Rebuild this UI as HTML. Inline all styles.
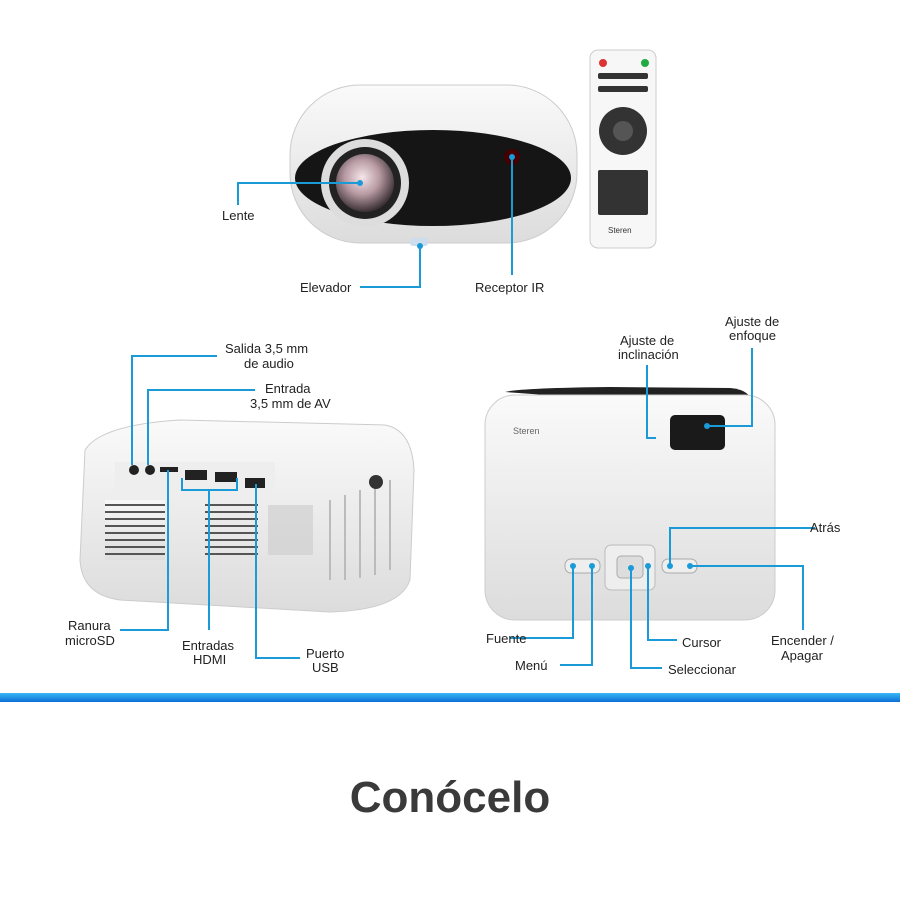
<!DOCTYPE html>
<html><head><meta charset="utf-8"><style>
body{margin:0;width:900px;height:900px;background:#fff;overflow:hidden;font-family:"Liberation Sans",sans-serif}
svg{position:absolute;left:0;top:0}
.t{font-size:13px;fill:#222}
</style></head><body>
<svg width="900" height="900" viewBox="0 0 900 900">
<defs>
<linearGradient id="bar" x1="0" y1="0" x2="0" y2="1"><stop offset="0" stop-color="#3ab8f5"/><stop offset="1" stop-color="#0a6fd6"/></linearGradient>
<radialGradient id="lens" cx="0.45" cy="0.4" r="0.6"><stop offset="0" stop-color="#f4e6ea"/><stop offset="0.5" stop-color="#b89aa3"/><stop offset="1" stop-color="#3a3035"/></radialGradient>
<linearGradient id="body" x1="0" y1="0" x2="0" y2="1"><stop offset="0" stop-color="#fafafa"/><stop offset="1" stop-color="#dcdcdc"/></linearGradient>
</defs>
<!-- top projector -->
<rect x="290" y="85" width="287" height="158" rx="70" fill="url(#body)" stroke="#ccc"/>
<ellipse cx="433" cy="178" rx="138" ry="48" fill="#151515"/>
<circle cx="365" cy="183" r="44" fill="#ddd"/>
<circle cx="365" cy="183" r="36" fill="#222"/>
<circle cx="365" cy="183" r="29" fill="url(#lens)"/>
<circle cx="512" cy="157" r="8" fill="#400"/>
<rect x="410" y="238" width="18" height="8" rx="3" fill="#cde"/>
<!-- remote -->
<rect x="590" y="50" width="66" height="198" rx="8" fill="#f7f7f7" stroke="#ccc"/>
<circle cx="603" cy="63" r="4" fill="#d33"/><circle cx="645" cy="63" r="4" fill="#2a4"/>
<g fill="#333"><rect x="598" y="73" width="50" height="6" rx="2"/><rect x="598" y="86" width="50" height="6" rx="2"/>
<circle cx="623" cy="131" r="24"/><rect x="598" y="170" width="50" height="45" rx="2"/></g>
<circle cx="623" cy="131" r="10" fill="#555"/>
<text x="608" y="233" font-size="8" fill="#333">Steren</text>
<!-- top callouts -->
<g stroke="#1a9ad6" stroke-width="2" fill="none">
<polyline points="238,205 238,183 360,183"/>
<polyline points="360,287 420,287 420,246"/>
<polyline points="512,157 512,275"/>
</g>
<g fill="#1a9ad6"><circle cx="360" cy="183" r="3"/><circle cx="420" cy="246" r="3"/><circle cx="512" cy="157" r="3"/></g>
<text class="t" x="222" y="220">Lente</text>
<text class="t" x="300" y="292">Elevador</text>
<text class="t" x="475" y="292">Receptor IR</text>
<!-- bottom-left projector -->
<path d="M85 450 Q100 425 180 420 L385 425 Q412 430 414 470 L410 580 Q400 610 330 612 L120 600 Q82 595 80 560 Z" fill="url(#body)" stroke="#ccc"/>
<rect x="115" y="462" width="160" height="30" fill="#eee"/>
<g fill="#222"><circle cx="134" cy="470" r="5"/><circle cx="150" cy="470" r="5"/><rect x="160" y="467" width="18" height="5"/><rect x="185" y="470" width="22" height="10"/><rect x="215" y="472" width="22" height="10"/><rect x="245" y="478" width="20" height="10"/></g>
<g fill="#333" opacity="0.7">
<rect x="105" y="500" width="60" height="60" fill="url(#body)"/>
</g>
<g stroke="#555" stroke-width="2">
<line x1="105" y1="505" x2="165" y2="505"/><line x1="105" y1="512" x2="165" y2="512"/><line x1="105" y1="519" x2="165" y2="519"/><line x1="105" y1="526" x2="165" y2="526"/><line x1="105" y1="533" x2="165" y2="533"/><line x1="105" y1="540" x2="165" y2="540"/><line x1="105" y1="547" x2="165" y2="547"/><line x1="105" y1="554" x2="165" y2="554"/>
<line x1="205" y1="505" x2="258" y2="505"/><line x1="205" y1="512" x2="258" y2="512"/><line x1="205" y1="519" x2="258" y2="519"/><line x1="205" y1="526" x2="258" y2="526"/><line x1="205" y1="533" x2="258" y2="533"/><line x1="205" y1="540" x2="258" y2="540"/><line x1="205" y1="547" x2="258" y2="547"/><line x1="205" y1="554" x2="258" y2="554"/>
</g>
<rect x="268" y="505" width="45" height="50" fill="#ccc" opacity="0.6"/>
<g stroke="#bbb" stroke-width="2"><line x1="330" y1="500" x2="330" y2="580"/><line x1="345" y1="495" x2="345" y2="580"/><line x1="360" y1="490" x2="360" y2="578"/><line x1="375" y1="485" x2="375" y2="575"/><line x1="390" y1="480" x2="390" y2="570"/></g>
<circle cx="376" cy="482" r="7" fill="#333"/>
<!-- bottom-left callouts -->
<g stroke="#1a9ad6" stroke-width="2" fill="none">
<polyline points="217,356 132,356 132,465"/>
<polyline points="255,390 148,390 148,465"/>
<polyline points="120,630 168,630 168,470"/>
<polyline points="182,478 182,490 237,490 237,478"/>
<polyline points="209,490 209,630"/>
<polyline points="300,658 256,658 256,484"/>
</g>
<text class="t" x="225" y="353">Salida 3,5 mm</text><text class="t" x="244" y="368">de audio</text>
<text class="t" x="265" y="393">Entrada</text><text class="t" x="250" y="408">3,5 mm de AV</text>
<text class="t" x="68" y="630">Ranura</text><text class="t" x="65" y="645">microSD</text>
<text class="t" x="182" y="650">Entradas</text><text class="t" x="193" y="664">HDMI</text>
<text class="t" x="306" y="658">Puerto</text><text class="t" x="312" y="672">USB</text>
<!-- bottom-right projector -->
<path d="M505 392 Q520 388 610 387 L730 388 Q755 390 752 410" fill="#222"/>
<rect x="485" y="395" width="290" height="225" rx="30" fill="url(#body)" stroke="#ccc"/>
<rect x="670" y="415" width="55" height="35" rx="5" fill="#1a1a1a"/>
<text x="513" y="434" font-size="9" fill="#666">Steren</text>
<rect x="605" y="545" width="50" height="45" rx="6" fill="#eee" stroke="#bbb"/>
<rect x="617" y="556" width="26" height="22" rx="4" fill="#ddd" stroke="#aaa"/>
<rect x="565" y="559" width="35" height="14" rx="6" fill="#eee" stroke="#aaa"/>
<rect x="662" y="559" width="35" height="14" rx="6" fill="#eee" stroke="#aaa"/>
<g stroke="#1a9ad6" stroke-width="2" fill="none">
<polyline points="647,365 647,438 656,438"/>
<polyline points="752,348 752,426 707,426"/>
<polyline points="815,528 670,528 670,566"/>
<polyline points="510,638 573,638 573,566"/>
<polyline points="560,665 592,665 592,566"/>
<polyline points="677,640 648,640 648,566"/>
<polyline points="662,668 631,668 631,568"/>
<polyline points="690,566 803,566 803,630"/>
</g>
<g fill="#1a9ad6"><circle cx="707" cy="426" r="3"/><circle cx="573" cy="566" r="3"/><circle cx="592" cy="566" r="3"/><circle cx="631" cy="568" r="3"/><circle cx="648" cy="566" r="3"/><circle cx="670" cy="566" r="3"/><circle cx="690" cy="566" r="3"/></g>
<text class="t" x="620" y="345">Ajuste de</text><text class="t" x="618" y="359">inclinación</text>
<text class="t" x="725" y="326">Ajuste de</text><text class="t" x="729" y="340">enfoque</text>
<text class="t" x="810" y="532">Atrás</text>
<text class="t" x="486" y="643">Fuente</text>
<text class="t" x="515" y="670">Menú</text>
<text class="t" x="682" y="647">Cursor</text>
<text class="t" x="668" y="674">Seleccionar</text>
<text class="t" x="771" y="645">Encender /</text><text class="t" x="781" y="660">Apagar</text>
<rect x="0" y="693" width="900" height="9" fill="url(#bar)"/>
<text x="450" y="812" text-anchor="middle" font-size="44" font-weight="bold" fill="#3a3a3a">Conócelo</text>
</svg>
</body></html>
